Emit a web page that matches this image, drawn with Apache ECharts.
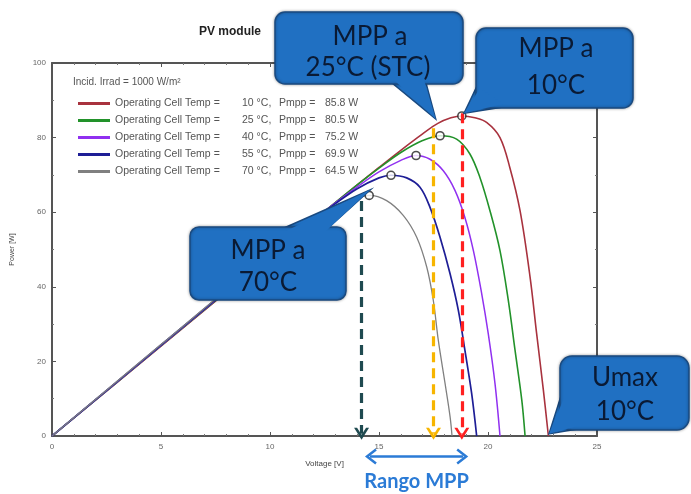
<!DOCTYPE html>
<html>
<head>
<meta charset="utf-8">
<script src="https://cdn.jsdelivr.net/npm/echarts@6/dist/echarts.min.js"></script>
<style>html,body{margin:0;padding:0;background:#fff;}#c{width:691px;height:494px;}</style>
</head>
<body>
<div id="c"></div>
<script>
// ---- data ----
const temps = ['10', '25', '40', '55', '70'];
const pmpp = ['85.8', '80.5', '75.2', '69.9', '64.5'];
const curve10 = [[0,0],[5,24.1],[10,48.2],[12,57.8],[14,67.3],[15,72],[16,76.6],[17,81],[17.7,83.8],[18.3,85.3],[18.8,85.8],[19.4,85.3],[19.95,84.0],[20.55,80.0],[21.0,72.0],[21.47,60.4],[21.93,42.6],[22.23,27.5],[22.54,12.3],[22.77,0]];
const curve25 = [[0,0],[5,24.2],[10,48.3],[12,57.8],[14,67.3],[15,71.8],[16,76.0],[17,79.2],[17.8,80.5],[18.56,79.6],[19.17,75.6],[19.63,69.3],[20.09,60.4],[20.55,49.7],[20.93,36.4],[21.24,23.0],[21.55,9.6],[21.7,0]];
const curve40 = [[0,0],[5,24.3],[10,48.5],[12,57.9],[13,62.5],[14,66.8],[15,70.8],[16,73.9],[16.7,75.2],[17.34,74.2],[17.95,71.1],[18.49,65.8],[18.94,58.6],[19.33,49.7],[19.71,38.2],[20.01,27.5],[20.32,14.1],[20.55,0]];
const curve55 = [[0,0],[5,24.4],[10,48.6],[12,57.9],[13,62.3],[14,66.3],[15,69.2],[15.55,69.9],[16.27,69.2],[16.88,66.7],[17.34,61.3],[17.8,53.3],[18.26,43.5],[18.64,33.7],[18.94,23.0],[19.25,11.4],[19.48,0]];
const curve70 = [[0,0],[5,24.5],[10,48.7],[12,57.6],[13,61.3],[14,63.8],[14.55,64.5],[15.35,63.1],[16.12,59.1],[16.73,53.3],[17.19,45.3],[17.49,36.4],[17.72,25.7],[18.03,14.1],[18.26,5.2],[18.35,0]];
const mppV = [18.8, 17.8, 16.7, 15.55, 14.55];
const mppP = [85.8, 80.5, 75.2, 69.9, 64.5];
const arrowV = [14.2, 17.5, 18.8];
const arrowTop = [63, 82.5, 86.5];
const rangeV = [14.45, 19.0];
const xTicks = [0, 5, 10, 15, 20, 25];
const yTicks = [0, 20, 40, 60, 80, 100];

// ---- styles ----
const curves = [curve10, curve25, curve40, curve55, curve70];
const colors = ['#a8323e', '#22922a', '#9030f0', '#1e1e96', '#808080'];
const widths = [1.6, 1.6, 1.5, 1.7, 1.3];
const arrowColors = ['#1f4a50', '#f7b500', '#ff2020'];
const names = temps.map(t => t + ' °C');
const chevron = 'path://M0,12 L10,0 L20,12 L16,12 L10,5 L4,12 Z';

const axisCommon = {
  type: 'value', min: 0,
  axisLine: { show: true, onZero: false, lineStyle: { color: '#555', width: 2 } },
  axisTick: { show: true, inside: true, length: 4, lineStyle: { color: '#555' } },
  minorTick: { show: true, length: 2, lineStyle: { color: '#777' } },
  splitLine: { show: false }
};

const series = curves.map((c, i) => ({
  type: 'line', name: names[i], data: c, smooth: 0.35, showSymbol: false,
  lineStyle: { color: colors[i], width: widths[i] }, itemStyle: { color: colors[i] },
  z: 2 + i, silent: true
}));
series.push({
  type: 'scatter', name: 'MPP', clip: false, silent: true, z: 10,
  data: mppV.map((v, i) => [v, mppP[i]]),
  symbol: 'circle', symbolSize: 8,
  itemStyle: { color: '#fff', borderColor: '#222', borderWidth: 1.6 },
  markLine: {
    silent: true, symbol: ['none', chevron], symbolSize: [15, 12],
    label: { show: false }, z: 12,
    data: arrowV.map((v, i) => [
      { coord: [v, arrowTop[i]], lineStyle: { color: arrowColors[i], width: 3.2, type: [10, 6] }, itemStyle: { color: arrowColors[i] } },
      { coord: [v, 0.6] }
    ])
  }
});

const LTXT = { fontFamily: 'Liberation Sans', fontSize: 10.5, color: '#555' };
const option = {
  animation: false,
  backgroundColor: '#fff',
  title: {
    text: 'PV module', left: 194, top: 21,
    textStyle: { fontSize: 12, fontWeight: 'bold', color: '#222', fontFamily: 'Liberation Sans' }
  },
  grid: { left: 52, right: 94, top: 63, bottom: 58 },
  legend: {
    data: names, orient: 'vertical', left: 73, top: 93,
    itemWidth: 32, itemHeight: 3, itemGap: 6, icon: 'rect',
    selectedMode: false,
    textStyle: Object.assign({}, LTXT, {
      rich: {
        a: Object.assign({ width: 127 }, LTXT),
        b: Object.assign({ width: 37 }, LTXT),
        c: Object.assign({ width: 46 }, LTXT),
        d: Object.assign({}, LTXT)
      }
    }),
    formatter: function (name) {
      const i = names.indexOf(name);
      return '{a|Operating Cell Temp =}{b|' + temps[i] + ' °C,}{c|Pmpp =}{d|' + pmpp[i] + ' W}';
    }
  },
  xAxis: [
    Object.assign({}, axisCommon, {
      max: 25, interval: 5, position: 'bottom',
      name: 'Voltage [V]', nameLocation: 'middle', nameGap: 24,
      nameTextStyle: { fontSize: 8, color: '#444', fontFamily: 'Liberation Sans' },
      minorTick: { show: true, splitNumber: 5, length: 2, lineStyle: { color: '#777' } },
      axisLabel: { fontSize: 8, color: '#666', margin: 7, fontFamily: 'Liberation Sans',
        formatter: v => xTicks.indexOf(v) >= 0 ? String(v) : '' }
    }),
    Object.assign({}, axisCommon, {
      max: 25, interval: 5, position: 'top',
      minorTick: { show: true, splitNumber: 5, length: 2, lineStyle: { color: '#777' } },
      axisLabel: { show: false }
    })
  ],
  yAxis: [
    Object.assign({}, axisCommon, {
      max: 100, interval: 20, position: 'left',
      name: 'Power [W]', nameLocation: 'middle', nameGap: 36, nameRotate: 90,
      nameTextStyle: { fontSize: 7, color: '#444', fontFamily: 'Liberation Sans' },
      minorTick: { show: true, splitNumber: 2, length: 2, lineStyle: { color: '#777' } },
      axisLabel: { fontSize: 8, color: '#666', margin: 6, fontFamily: 'Liberation Sans',
        formatter: v => yTicks.indexOf(v) >= 0 ? String(v) : '' }
    }),
    Object.assign({}, axisCommon, {
      max: 100, interval: 20, position: 'right',
      minorTick: { show: true, splitNumber: 2, length: 2, lineStyle: { color: '#777' } },
      axisLabel: { show: false }
    })
  ],
  series: series
};

const chart = echarts.init(document.getElementById('c'), null, { renderer: 'canvas' });
chart.setOption(option);

// ---- annotations (callouts positioned relative to the data via the axes) ----
const px = (v, p) => chart.convertToPixel({ xAxisIndex: 0, yAxisIndex: 0 }, [v, p]);
const FILL = '#2070c2', EDGE = '#1a4a80', TXT = '#0a1a34';
const FONT = '26px Lato';

function callout(box, base, tip, lines) {
  const [x, y, w, h, r] = box;
  const els = [
    { type: 'polygon', z: 100, shape: { points: [base[0], tip, base[1]] },
      style: { fill: FILL, stroke: EDGE, lineWidth: 1.5 } },
    { type: 'rect', z: 101, shape: { x: x, y: y, width: w, height: h, r: r },
      style: { fill: FILL, stroke: EDGE, lineWidth: 1.5, shadowBlur: 3, shadowColor: 'rgba(0,0,0,0.35)' } },
    { type: 'polygon', z: 102, shape: { points: [base[2], tip, base[3]] },
      style: { fill: FILL } }
  ];
  lines.forEach(l => {
    els.push({ type: 'text', z: 103, x: l[1], y: l[2],
      style: { text: l[0], fill: TXT, font: FONT, textAlign: 'center', textVerticalAlign: 'middle', align: 'center', verticalAlign: 'middle' } });
  });
  return els;
}

const tip25 = px(17.6, 85.0);
const tip10 = px(18.9, 86.5);
const tip70 = px(14.6, 66.0);
const tipU = px(22.8, 0.6);
const r0 = px(rangeV[0], -5.5), r1 = px(rangeV[1], -5.5);

let graphics = [];
graphics = graphics.concat(callout([275, 12, 188, 72, 10],
  [[392, 83], [426, 83], [394, 80], [424, 80]], tip25,
  [['MPP a', 370, 37], ['25°C (STC)', 368, 68]]));
graphics = graphics.concat(callout([476, 28, 157, 80, 10],
  [[477, 86], [503, 107], [480, 88], [503, 104]], tip10,
  [['MPP a', 556, 49], ['10°C', 556, 86]]));
graphics = graphics.concat(callout([190, 227, 156, 73, 9],
  [[284, 228], [328, 228], [286, 231], [326, 231]], tip70,
  [['MPP a', 268, 251], ['70°C', 268, 283]]));
graphics = graphics.concat(callout([560, 356, 129, 74, 12],
  [[561, 396], [578, 429], [564, 398], [578, 426]], tipU,
  [['Umax', 625, 378], ['10°C', 625, 412]]));

// Rango MPP double arrow
graphics.push({ type: 'line', z: 110, shape: { x1: r0[0] + 3, y1: r0[1], x2: r1[0] - 3, y2: r1[1] },
  style: { stroke: '#2b7bd6', lineWidth: 2.5 } });
graphics.push({ type: 'polyline', z: 110, shape: { points: [[r0[0] + 9, r0[1] - 7], [r0[0], r0[1]], [r0[0] + 9, r0[1] + 7]] },
  style: { stroke: '#2b7bd6', lineWidth: 2.5, fill: null } });
graphics.push({ type: 'polyline', z: 110, shape: { points: [[r1[0] - 9, r1[1] - 7], [r1[0], r1[1]], [r1[0] - 9, r1[1] + 7]] },
  style: { stroke: '#2b7bd6', lineWidth: 2.5, fill: null } });
graphics.push({ type: 'text', z: 110, x: (r0[0] + r1[0]) / 2, y: r0[1] + 25,
  style: { text: 'Rango MPP', fill: '#2b7bd6', font: 'bold 20px Lato', textAlign: 'center', textVerticalAlign: 'middle', align: 'center', verticalAlign: 'middle' } });

// legend header
graphics.push({ type: 'text', z: 50, x: 73, y: 82,
  style: { text: 'Incid. Irrad = 1000 W/m²', fill: '#555', font: '10px Liberation Sans', textVerticalAlign: 'middle', verticalAlign: 'middle' } });

chart.setOption({ graphic: graphics });
</script>
</body>
</html>
